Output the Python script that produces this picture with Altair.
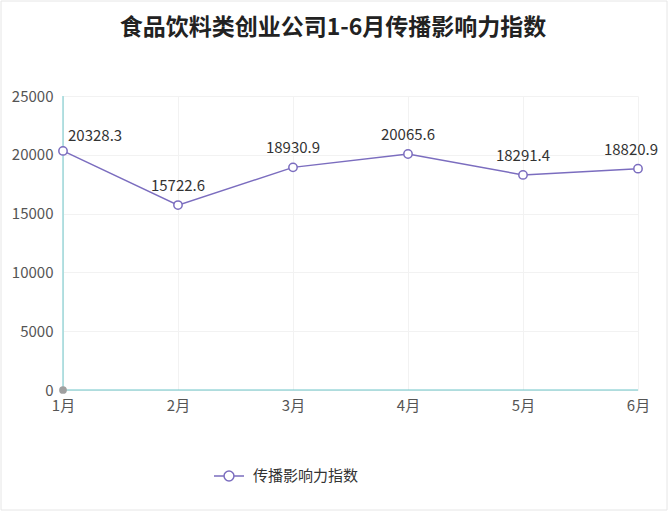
import altair as alt
import pandas as pd

months = ["1月", "2月", "3月", "4月", "5月", "6月"]
values = [20328.3, 15722.6, 18930.9, 20065.6, 18291.4, 18820.9]
series_name = "传播影响力指数"
title_text = "食品饮料类创业公司1-6月传播影响力指数"
y_ticks = [0, 5000, 10000, 15000, 20000, 25000]

df = pd.DataFrame({"month": months, "value": values, "series": [series_name] * len(months)})

LINE = "#7B6DBF"
AXIS = "#6CC5C8"
FONT = "Noto Sans CJK SC"

x_enc = alt.X("month:N", sort=months,
              scale=alt.Scale(type="point", padding=0),
              axis=alt.Axis(title=None, labelAngle=0, labelFontSize=15, labelColor="#555",
                            labelPadding=8, ticks=False, domain=False,
                            grid=True, gridColor="#F2F2F2"))
y_enc = alt.Y("value:Q", scale=alt.Scale(domain=[0, 25000], nice=False),
              axis=alt.Axis(title=None, values=y_ticks, format="d", labelFontSize=15,
                            labelColor="#555", labelPadding=10, ticks=False, domain=False,
                            grid=True, gridColor="#F2F2F2"))

legend_path = ("M-1,0L-0.33,0M0.33,0L1,0M0.33,0A0.33,0.33,0,1,1,-0.33,0"
               "A0.33,0.33,0,1,1,0.33,0Z")

base = alt.Chart(df)

# axis lines drawn as rules so they sit above the grid
y_axis_line = alt.Chart(pd.DataFrame({"v": [0]})).mark_rule(color=AXIS, strokeWidth=1).encode(
    x=alt.value(0), y=alt.value(0), y2=alt.value(294))
x_axis_line = alt.Chart(pd.DataFrame({"v": [0]})).mark_rule(color=AXIS, strokeWidth=1).encode(
    x=alt.value(0), x2=alt.value(575), y=alt.value(294))

line = base.mark_line(strokeWidth=1.5).encode(
    x=x_enc, y=y_enc,
    color=alt.Color("series:N", scale=alt.Scale(range=[LINE]),
                    legend=alt.Legend(title=None, orient="none", legendX=150, legendY=364,
                                      symbolType=legend_path, symbolSize=900,
                                      symbolStrokeWidth=1.5, symbolFillColor="white",
                                      symbolStrokeColor=LINE,
                                      labelFontSize=15, labelColor="#333", labelFont=FONT,
                                      labelOffset=8)),
)
points = base.mark_point(filled=True, fill="white", stroke=LINE, strokeWidth=1.5,
                         size=70, opacity=1, shape="circle").encode(x="month:N", y="value:Q")

txt_kw = dict(fontSize=15, color="#333", font=FONT, baseline="bottom")
lab_first = base.transform_filter(alt.datum.month == months[0]).mark_text(
    align="left", dx=5, dy=-7, **txt_kw).encode(x="month:N", y="value:Q", text="value:N")
lab_mid = base.transform_filter(
    (alt.datum.month != months[0]) & (alt.datum.month != months[-1])).mark_text(
    align="center", dy=-11, **txt_kw).encode(x="month:N", y="value:Q", text="value:N")
lab_last = base.transform_filter(alt.datum.month == months[-1]).mark_text(
    align="center", dx=-7, dy=-11, **txt_kw).encode(x="month:N", y="value:Q", text="value:N")

origin = alt.Chart(pd.DataFrame({"v": [0]})).mark_circle(color="#A0A0A0", size=60, opacity=1).encode(
    x=alt.value(0), y=alt.value(294))

title = alt.Chart(pd.DataFrame({"t": [title_text]})).mark_text(
    fontSize=23, fontWeight="bold", font=FONT, color="#222", align="center",
    baseline="middle").encode(text="t:N", x=alt.value(270), y=alt.value(-68))

border = alt.Chart(pd.DataFrame({"v": [0]})).mark_rect(
    fill=None, stroke="#E6E6E6", strokeWidth=1).encode(
    x=alt.value(-62), x2=alt.value(604), y=alt.value(-95), y2=alt.value(414))

chart = alt.layer(border, y_axis_line, x_axis_line, line, points, origin,
                  lab_first, lab_mid, lab_last, title).properties(
    width=575, height=294,
).configure(
    autosize=alt.AutoSizeParams(type="none"),
    padding={"left": 63, "top": 96, "right": 30, "bottom": 122},
    font=FONT,
).configure_view(stroke=None)

chart.save("out.html", embed_options={"renderer": "svg", "actions": False})
